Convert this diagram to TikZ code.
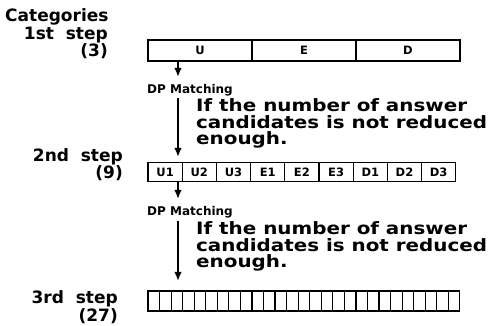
\documentclass[tikz,border=0pt]{standalone}
\usepackage{fontspec}
\setmainfont{DejaVu Sans}
\newfontfamily\widefont[FakeStretch=1.17]{DejaVu Sans}
\usetikzlibrary{positioning, arrows.meta}
\tikzset{%
  cell/.style = {rectangle, draw, line width=1.2pt, inner sep=0pt, font=\bfseries\fontsize{11.5}{11.5}\selectfont},
  head/.style = {inner sep=0pt, font=\bfseries\fontsize{17}{17}\selectfont},
  steplbl/.style = {inner sep=0pt, align=right, font=\bfseries\fontsize{17}{15}\selectfont},
  dp/.style = {inner sep=0pt, font=\bfseries\fontsize{12}{12}\selectfont},
  note/.style = {inner sep=0pt, align=left, font=\widefont\bfseries\fontsize{17}{16.5}\selectfont},
  flow/.style = {-{Latex[length=9pt,width=7.5pt]}, line width=2.4pt}
}

\begin{document}
\begin{tikzpicture}[x=1pt, y=-1pt]
    \useasboundingbox (0,0) rectangle (496,326);

    % labels on the left
    \node (cat)  [head, anchor=base west] at (5,22) {Categories};
    \node (lblA) [steplbl, anchor=base east] at (108,57) {1st\ \ step\\(3)};
    \node (lblB) [steplbl, anchor=base east] at (123,179) {2nd\ \ step\\(9)};
    \node (lblC) [steplbl, anchor=base east] at (118,321) {3rd\ \ step\\(27)};

    % the three rows of categories
    \foreach \l [count=\i] in {U,E,D}
      \node (a\i) [cell, minimum width=104pt, minimum height=21pt]
        at ({148+104*(\i-0.5)},50.5) {\l};
    \foreach \l [count=\i] in {U1,U2,U3,E1,E2,E3,D1,D2,D3}
      \node (b\i) [cell, minimum width=34.2pt, minimum height=19pt]
        at ({148+34.2*(\i-0.5)},172) {\l};
    \foreach \i in {1,...,27}
      \node (c\i) [cell, minimum width=11.55pt, minimum height=20pt]
        at ({148+11.55*(\i-0.5)},301) {};

    % first matching
    \node (dpA)   [dp, anchor=base west] at (147,94) {DP Matching};
    \node (noteA) [note, anchor=base west] at (196,145)
      {If the number of answer\\candidates is not reduced\\enough.};
    \coordinate (tA) at (178,77);
    \coordinate (sA) at (178,98);
    \coordinate (eA) at (178,157);

    % second matching
    \node (dpB)   [dp, anchor=base west] at (147,216) {DP Matching};
    \node (noteB) [note, anchor=base west] at (196,268)
      {If the number of answer\\candidates is not reduced\\enough.};
    \coordinate (tB) at (178,199);
    \coordinate (sB) at (178,221);
    \coordinate (eB) at (178,281);

    \draw[flow] (a1.south -| tA) -- (tA);
    \draw[flow] (sA) -- (eA);
    \draw[flow] (b1.south -| tB) -- (tB);
    \draw[flow] (sB) -- (eB);
\end{tikzpicture}
\end{document}
